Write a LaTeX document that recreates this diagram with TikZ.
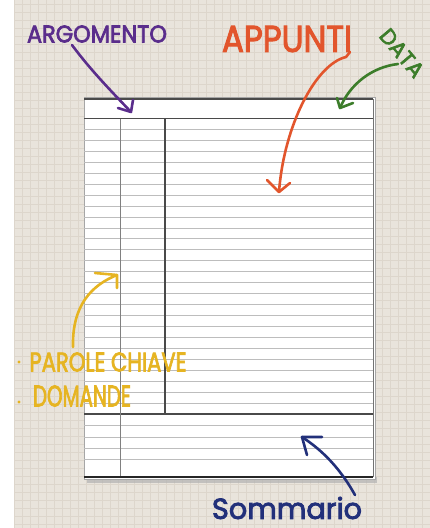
\documentclass[tikz,border=0pt]{standalone}
\usepackage{fontspec}
\usepackage{graphicx}
\newfontfamily\hand[FakeBold=3]{Poppins}
\definecolor{bgc}{HTML}{E9E4DC}
\definecolor{gridc}{HTML}{DDD6CC}
\definecolor{ink1}{HTML}{5A2D8C}
\definecolor{ink2}{HTML}{E2552C}
\definecolor{ink3}{HTML}{3C7D2A}
\definecolor{ink4}{HTML}{E6B422}
\definecolor{ink5}{HTML}{22307A}
\definecolor{rule}{HTML}{BDBDBD}
\definecolor{darkrule}{HTML}{4A4A4A}
\begin{document}
\begin{tikzpicture}[x=1pt,y=-1pt,
  marker/.style={line width=2.6pt, line cap=round, line join=round},
  hw/.style={inner sep=0pt, anchor=center},
  thinrule/.style={rule, line width=0.8pt},
  heavyrule/.style={darkrule, line width=1.8pt}]
\useasboundingbox (0,0) rectangle (430,528);
% background grid paper
\fill[bgc] (0,0) rectangle (430,528);
\foreach \x in {14,22,...,430} \draw[gridc, line width=0.3pt] (\x,0) -- (\x,528);
\foreach \y in {4,12,...,528} \draw[gridc, line width=0.3pt] (14,\y) -- (430,\y);
\fill[white] (0,0) rectangle (14,528);
% paper
\fill[black!30, opacity=0.7] (87,477) rectangle (377,483);
\fill[white] (84,97) rectangle (375,479);
\draw[black!35, line width=0.6pt] (84,97) rectangle (375,479);
\draw[black!55, line width=0.8pt] (373,99) -- (373,477);
\draw[darkrule, line width=1.3pt] (84,99) -- (373,99);
\foreach \k in {1,...,26} \draw[thinrule] (84,{118.5+10.94*\k}) -- (373,{118.5+10.94*\k});
\foreach \yy in {425.6,436.9,448.1,459.3} \draw[thinrule] (84,\yy) -- (373,\yy);
\draw[heavyrule] (84,118.5) -- (373,118.5);
\draw[heavyrule] (84,414.2) -- (373,414.2);
\draw[black!85, line width=1.6pt] (84,477) -- (373,477);
\draw[black!50, line width=0.8pt] (120.7,118.5) -- (120.7,476);
\draw[darkrule, line width=1.5pt] (165,118.5) -- (165,414.2);
% labels
\node[hw, ink1] (arg) at (97,34) {\resizebox{140pt}{17pt}{\hand ARGOMENTO}};
\node[hw, ink2] (app) at (287,39) {\resizebox{130pt}{26pt}{\hand APPUNTI}};
\node[hw, ink3, rotate=-50] (data) at (402,53) {\resizebox{56pt}{15pt}{\hand DATA}};
\node[hw, ink4] (par) at (108,362) {\resizebox{157pt}{19pt}{\hand PAROLE CHIAVE}};
\node[hw, ink4] (dom) at (82,396) {\resizebox{98pt}{21pt}{\hand DOMANDE}};
\fill[ink4] (19,362) circle (1.6pt);
\fill[ink4] (19,402) circle (1.6pt);
\node[hw, ink5] (som) at (287,508) {\resizebox{150pt}{22pt}{\hand Sommario}};
% arrows
\coordinate (argS) at (72,45);
\coordinate (argT) at (131,112);
\draw[marker, ink1] (argS) .. controls (92,72) and (115,95) .. (argT);
\draw[marker, ink1] (118,108) -- (argT) -- (133,100);
\coordinate (appS) at (350,52);
\coordinate (appT) at (279,192);
\draw[marker, ink2] (appS) -- (346,57) .. controls (316,64) and (284,125) .. (appT);
\draw[marker, ink2] (267,180) -- (appT) -- (290,183);
\coordinate (datS) at (398,64);
\coordinate (datT) at (340,108);
\draw[marker, ink3] (datS) .. controls (372,67) and (350,84) .. (datT);
\draw[marker, ink3] (337,98) -- (datT) -- (353,103);
\coordinate (parS) at (73,347);
\coordinate (parT) at (117,275);
\draw[marker, ink4] (parS) .. controls (72,305) and (92,285) .. (parT);
\draw[marker, ink4] (95,273) -- (parT) -- (117,288);
\coordinate (somS) at (355,495);
\coordinate (somT) at (302,437);
\draw[marker, ink5] (somS) .. controls (340,468) and (322,450) .. (somT);
\draw[marker, ink5] (322,437) -- (somT) -- (307,455);
\end{tikzpicture}
\end{document}
